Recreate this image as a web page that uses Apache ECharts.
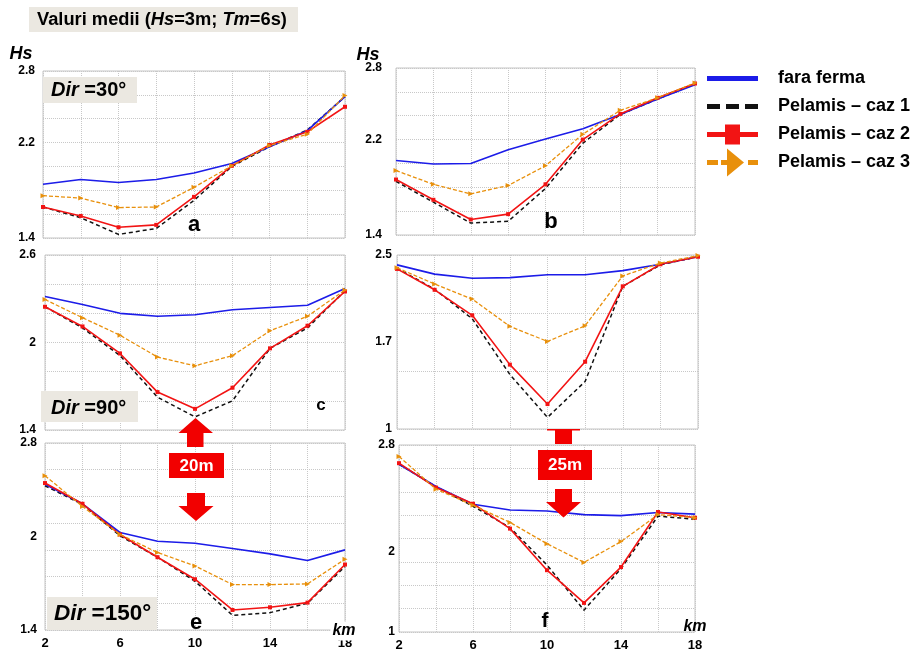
<!DOCTYPE html>
<html>
<head>
<meta charset="utf-8">
<script src="https://cdn.jsdelivr.net/npm/echarts@6/dist/echarts.min.js"></script>
<style>
html, body { margin: 0; padding: 0; background: #fff; }
#chart { width: 912px; height: 652px; }
</style>
</head>
<body>
<div id="chart"></div>
<script>
// Distance along the profile (km)
const xKm = [2, 4, 6, 8, 10, 12, 14, 16, 18];
const seriesNames = ['fara ferma', 'Pelamis – caz 1', 'Pelamis – caz 2', 'Pelamis – caz 3'];

// Hs (m) — Dir = 30°, 20 m depth
const a_faraFerma = [1.85, 1.89, 1.865, 1.89, 1.945, 2.025, 2.165, 2.30, 2.585];
const a_caz1 = [1.66, 1.57, 1.43, 1.48, 1.715, 2.00, 2.165, 2.305, 2.585];
const a_caz2 = [1.66, 1.585, 1.49, 1.51, 1.745, 2.005, 2.18, 2.29, 2.50];
const a_caz3 = [1.755, 1.735, 1.655, 1.66, 1.825, 2.005, 2.175, 2.27, 2.595];

// Hs (m) — Dir = 30°, 25 m depth
const b_faraFerma = [2.025, 1.995, 2.00, 2.115, 2.205, 2.29, 2.41, 2.54, 2.66];
const b_caz1 = [1.85, 1.675, 1.50, 1.515, 1.79, 2.17, 2.41, 2.54, 2.665];
const b_caz2 = [1.865, 1.695, 1.53, 1.575, 1.825, 2.20, 2.415, 2.55, 2.67];
const b_caz3 = [1.94, 1.825, 1.745, 1.815, 1.98, 2.245, 2.445, 2.55, 2.675];

// Hs (m) — Dir = 90°, 20 m depth
const c_faraFerma = [2.315, 2.26, 2.20, 2.18, 2.19, 2.225, 2.24, 2.255, 2.37];
const c_caz1 = [2.245, 2.10, 1.91, 1.625, 1.49, 1.60, 1.96, 2.10, 2.355];
const c_caz2 = [2.245, 2.11, 1.925, 1.66, 1.545, 1.69, 1.96, 2.115, 2.35];
const c_caz3 = [2.295, 2.17, 2.05, 1.90, 1.84, 1.91, 2.08, 2.18, 2.36];

// Hs (m) — Dir = 90°, 25 m depth
const d_faraFerma = [2.415, 2.335, 2.30, 2.305, 2.33, 2.33, 2.365, 2.42, 2.485];
const d_caz1 = [2.385, 2.205, 1.95, 1.47, 1.10, 1.41, 2.23, 2.415, 2.485];
const d_caz2 = [2.38, 2.20, 1.98, 1.555, 1.215, 1.58, 2.23, 2.42, 2.485];
const d_caz3 = [2.39, 2.25, 2.12, 1.885, 1.755, 1.89, 2.32, 2.43, 2.495];

// Hs (m) — Dir = 150°, 20 m depth
const e_faraFerma = [2.49, 2.345, 2.13, 2.065, 2.05, 2.01, 1.97, 1.92, 2.00];
const e_caz1 = [2.48, 2.34, 2.105, 1.945, 1.765, 1.51, 1.53, 1.60, 1.875];
const e_caz2 = [2.50, 2.345, 2.115, 1.945, 1.78, 1.55, 1.57, 1.605, 1.89];
const e_caz3 = [2.555, 2.325, 2.115, 1.98, 1.88, 1.74, 1.74, 1.745, 1.93];

// Hs (m) — Dir = 150°, 25 m depth
const f_faraFerma = [2.615, 2.40, 2.23, 2.175, 2.165, 2.13, 2.12, 2.15, 2.135];
const f_caz1 = [2.615, 2.40, 2.21, 2.005, 1.645, 1.21, 1.61, 2.115, 2.085];
const f_caz2 = [2.625, 2.39, 2.235, 1.995, 1.595, 1.28, 1.625, 2.155, 2.10];
const f_caz3 = [2.69, 2.375, 2.22, 2.055, 1.85, 1.67, 1.87, 2.13, 2.10];

// Tick labels on the Hs axes
const a_yLabels = [1.4, 2.2, 2.8];
const b_yLabels = [1.4, 2.2, 2.8];
const c_yLabels = [1.4, 2, 2.6];
const d_yLabels = ['1', '1.7', '2.5'];
const e_yLabels = ['1.4', '2', '2.8'];
const f_yLabels = ['1', '2', '2.8'];
const xLabelStep = 4;

const FONT = "'Liberation Sans', Arial, sans-serif";
const C_BLUE = '#1c1ce8', C_BLACK = '#111111', C_RED = '#f21414', C_ORANGE = '#e8900c';

// Panel layout: plot rectangle and Hs axis extent / grid spacing
const panels = [
  { vals: [a_faraFerma, a_caz1, a_caz2, a_caz3], rect: [43, 71, 302, 167], min: 1.4, max: 2.8, step: 0.2,
    labels: { kind: 'value', list: a_yLabels }, margin: 8, xLabels: false },
  { vals: [b_faraFerma, b_caz1, b_caz2, b_caz3], rect: [396, 68, 299, 167], min: 1.4, max: 2.8, step: 0.2,
    labels: { kind: 'value', list: b_yLabels }, margin: 14, xLabels: false },
  { vals: [c_faraFerma, c_caz1, c_caz2, c_caz3], rect: [45, 255, 300, 175], min: 1.4, max: 2.6, step: 0.2,
    labels: { kind: 'value', list: c_yLabels }, margin: 9, xLabels: false },
  { vals: [d_faraFerma, d_caz1, d_caz2, d_caz3], rect: [397, 255, 301, 174], min: 1, max: 2.5, step: 0.5,
    labels: { kind: 'axis', list: d_yLabels, min: 1, max: 2.5, step: 0.75 }, margin: 5, xLabels: false },
  { vals: [e_faraFerma, e_caz1, e_caz2, e_caz3], rect: [45, 443, 300, 187], min: 1.4, max: 2.8, step: 0.2,
    labels: { kind: 'slots', list: e_yLabels, slots: [0, 2, 4], count: 5 }, margin: 8, xLabels: true },
  { vals: [f_faraFerma, f_caz1, f_caz2, f_caz3], rect: [399, 445, 296, 187], min: 1, max: 2.8, step: 0.225,
    labels: { kind: 'slots', list: f_yLabels, slots: [0, 3, 7], count: 8 }, margin: 4, xLabels: true }
];

const seriesStyles = [
  { color: C_BLUE, lineStyle: { width: 1.6, type: 'solid' }, symbol: 'none', z: 3 },
  { color: C_BLACK, lineStyle: { width: 1.5, type: [4, 3] }, symbol: 'none', z: 2 },
  { color: C_RED, lineStyle: { width: 1.6, type: 'solid' }, symbol: 'rect', symbolSize: 4, z: 4 },
  { color: C_ORANGE, lineStyle: { width: 1.3, type: [4, 2] }, symbol: 'triangle', symbolSize: 5, symbolRotate: -90, z: 5 }
];

const grids = [], xAxes = [], yAxes = [], series = [];
const axisLabelFont = { color: '#000', fontWeight: 'bold', fontSize: 12, fontFamily: FONT };

panels.forEach((p, i) => {
  grids.push({
    left: p.rect[0], top: p.rect[1], width: p.rect[2], height: p.rect[3],
    show: true, borderColor: '#c4c4c4', borderWidth: 1, backgroundColor: 'transparent'
  });
  xAxes.push({
    type: 'value', gridIndex: i, min: 2, max: 18, interval: 2,
    axisLine: { show: false }, axisTick: { show: false },
    splitLine: { show: true, lineStyle: { color: '#c8c8c8', type: 'dotted', width: 1 } },
    axisLabel: {
      show: p.xLabels, margin: 7, color: '#000', fontWeight: 'bold', fontSize: 13, fontFamily: FONT,
      formatter: v => ((v - xKm[0]) % xLabelStep === 0 ? String(v) : '')
    }
  });
  const gridAxisIndex = yAxes.length;
  const lab = p.labels;
  yAxes.push({
    type: 'value', gridIndex: i, min: p.min, max: p.max, interval: p.step,
    axisLine: { show: false }, axisTick: { show: false },
    splitLine: { show: true, lineStyle: { color: '#c8c8c8', type: 'dotted', width: 1 } },
    axisLabel: lab.kind === 'value' ? Object.assign({
      show: true, margin: p.margin, interval: 0,
      formatter: v => {
        const hit = lab.list.find(L => Math.abs(L - v) < 1e-6);
        return hit === undefined ? '' : String(hit);
      }
    }, axisLabelFont) : { show: false }
  });
  if (lab.kind === 'axis') {
    yAxes.push({
      type: 'value', gridIndex: i, min: lab.min, max: lab.max, interval: lab.step, position: 'left',
      axisLine: { show: false }, axisTick: { show: false }, splitLine: { show: false },
      axisLabel: Object.assign({
        margin: p.margin,
        formatter: v => lab.list[Math.round((v - lab.min) / lab.step)]
      }, axisLabelFont)
    });
  } else if (lab.kind === 'slots') {
    const cats = new Array(lab.count).fill('');
    lab.slots.forEach((s, k) => { cats[s] = lab.list[k]; });
    yAxes.push({
      type: 'category', gridIndex: i, data: cats, boundaryGap: false, position: 'left',
      axisLine: { show: false }, axisTick: { show: false }, splitLine: { show: false },
      axisLabel: Object.assign({ margin: p.margin, interval: 0 }, axisLabelFont)
    });
  }
  p.vals.forEach((vals, s) => {
    const st = seriesStyles[s];
    series.push({
      type: 'line', name: seriesNames[s], xAxisIndex: i, yAxisIndex: gridAxisIndex,
      data: xKm.map((x, k) => [x, vals[k]]),
      color: st.color, lineStyle: st.lineStyle, symbol: st.symbol,
      symbolSize: st.symbolSize || 0, symbolRotate: st.symbolRotate || 0,
      showSymbol: st.symbol !== 'none', itemStyle: { color: st.color, borderWidth: 0 },
      z: st.z, silent: true, animation: false
    });
  });
});

// Legend icons drawn in a 51 x 28 box (the leading moves fix the box size)
const BOX = 'M0 0M51 28';
const legendIcons = [
  'path://' + BOX + 'M0 11.5L51 11.5L51 16.5L0 16.5Z',
  'path://' + BOX + 'M0 11.5L13 11.5L13 16.5L0 16.5ZM19 11.5L32 11.5L32 16.5L19 16.5ZM38 11.5L51 11.5L51 16.5L38 16.5Z',
  'path://' + BOX + 'M0 11.5L51 11.5L51 16.5L0 16.5ZM18 4L33 4L33 24L18 24Z',
  'path://' + BOX + 'M0 11.5L11 11.5L11 16.5L0 16.5ZM14 11.5L20 11.5L20 0L37 14L20 28L20 16.5L14 16.5ZM41 11.5L51 11.5L51 16.5L41 16.5Z'
];
const legendColors = [C_BLUE, C_BLACK, C_RED, C_ORANGE];

const boxFill = '#ebe8e1';
const txt = (text, x, y, font, opts) => Object.assign({
  type: 'text', z: 100,
  style: Object.assign({ text, x, y, font, fill: '#000', textAlign: 'center', textVerticalAlign: 'middle' }, opts || {})
});
const richFonts = (size) => ({
  b: { font: 'bold ' + size + 'px ' + FONT, fill: '#000' },
  bi: { font: 'italic bold ' + size + 'px ' + FONT, fill: '#000' }
});

const graphics = [
  // heading
  { type: 'rect', z: 90, shape: { x: 29, y: 7, width: 269, height: 25 }, style: { fill: boxFill } },
  { type: 'text', z: 100, style: { x: 37, y: 20, text: '{b|Valuri medii (}{bi|Hs}{b|=3m; }{bi|Tm}{b|=6s)}',
    rich: richFonts(18.3), textVerticalAlign: 'middle' } },
  // axis titles
  txt('Hs', 21, 54, 'italic bold 18px ' + FONT),
  txt('Hs', 368, 55, 'italic bold 18px ' + FONT),
  // direction boxes
  { type: 'rect', z: 90, shape: { x: 43, y: 77, width: 94, height: 26 }, style: { fill: boxFill } },
  { type: 'text', z: 100, style: { x: 51, y: 90, text: '{bi|Dir}{b| =30°}', rich: richFonts(20), textVerticalAlign: 'middle' } },
  { type: 'rect', z: 90, shape: { x: 41, y: 391, width: 97, height: 31 }, style: { fill: boxFill } },
  { type: 'text', z: 100, style: { x: 51, y: 408, text: '{bi|Dir}{b| =90°}', rich: richFonts(20), textVerticalAlign: 'middle' } },
  { type: 'rect', z: 90, shape: { x: 47, y: 597, width: 110, height: 33 }, style: { fill: boxFill } },
  { type: 'text', z: 100, style: { x: 54, y: 614, text: '{bi|Dir}{b| =150°}', rich: richFonts(22.5), textVerticalAlign: 'middle' } },
  // panel letters
  txt('a', 194, 225, 'bold 22px ' + FONT),
  txt('b', 551, 222, 'bold 22px ' + FONT),
  txt('c', 321, 405, 'bold 17px ' + FONT),
  txt('e', 196, 623, 'bold 22px ' + FONT),
  txt('f', 545, 621, 'bold 21px ' + FONT),
  // distance unit
  txt('km', 344, 631, 'italic bold 16px ' + FONT, { backgroundColor: '#fff', padding: [0, 2, 3, 2] }),
  txt('km', 695, 627, 'italic bold 16px ' + FONT),
  // depth markers, 20 m
  { type: 'polygon', z: 95, shape: { points: [[195.5, 418], [213, 433], [203.5, 433], [203.5, 447], [187, 447], [187, 433], [178.5, 433]] }, style: { fill: '#f20000' } },
  { type: 'rect', z: 95, shape: { x: 169, y: 453, width: 55, height: 25 }, style: { fill: '#f20000' } },
  txt('20m', 196.5, 466, 'bold 17px ' + FONT, { fill: '#fff' }),
  { type: 'polygon', z: 95, shape: { points: [[187, 493], [205, 493], [205, 506], [213.5, 506], [196, 521], [178.5, 506], [187, 506]] }, style: { fill: '#f20000' } },
  // depth markers, 25 m
  { type: 'rect', z: 95, shape: { x: 547, y: 429, width: 33, height: 1.5 }, style: { fill: '#f20000' } },
  { type: 'rect', z: 95, shape: { x: 555, y: 430, width: 17, height: 14 }, style: { fill: '#f20000' } },
  { type: 'rect', z: 95, shape: { x: 538, y: 450, width: 54, height: 30 }, style: { fill: '#f20000' } },
  txt('25m', 565, 465.5, 'bold 17px ' + FONT, { fill: '#fff' }),
  { type: 'polygon', z: 95, shape: { points: [[555, 489], [572, 489], [572, 502], [581, 502], [563.5, 517.5], [546, 502], [555, 502]] }, style: { fill: '#f20000' } }
];

const chart = echarts.init(document.getElementById('chart'), null, { renderer: 'canvas' });
chart.setOption({
  animation: false,
  backgroundColor: '#ffffff',
  grid: grids,
  xAxis: xAxes,
  yAxis: yAxes,
  series: series,
  legend: {
    left: 707, top: 64.5, padding: 0, orient: 'vertical', itemWidth: 51, itemHeight: 28, itemGap: 0,
    symbolKeepAspect: false, selectedMode: false,
    textStyle: { color: '#000', fontWeight: 'bold', fontSize: 18, fontFamily: FONT, padding: [0, 0, 0, 15] },
    data: seriesNames.map((n, k) => ({
      name: n, icon: legendIcons[k],
      itemStyle: { color: legendColors[k], borderWidth: 0 }
    }))
  },
  graphic: graphics
});
</script>
</body>
</html>
